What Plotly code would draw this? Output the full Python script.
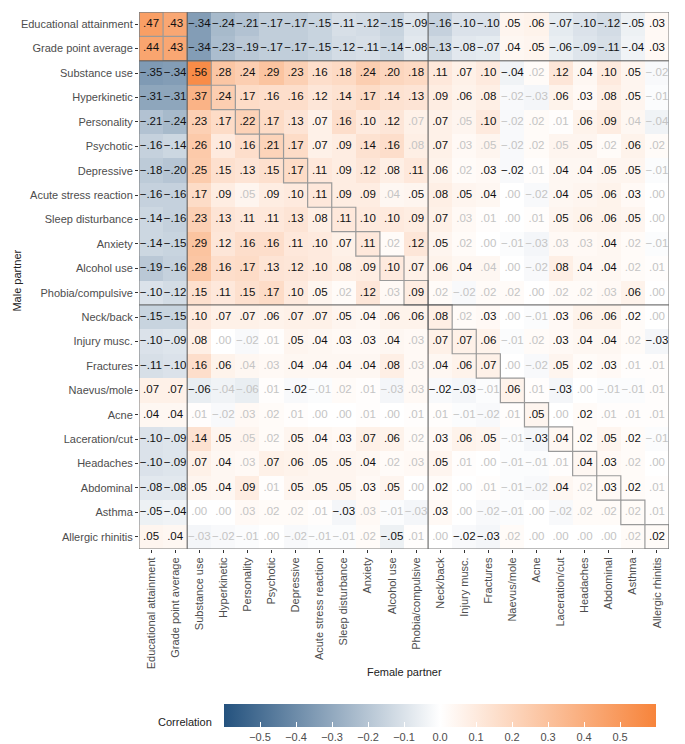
import plotly.graph_objects as go

categories = ["Educational attainment", "Grade point average", "Substance use", "Hyperkinetic",
              "Personality", "Psychotic", "Depressive", "Acute stress reaction", "Sleep disturbance",
              "Anxiety", "Alcohol use", "Phobia/compulsive", "Neck/back", "Injury musc.", "Fractures",
              "Naevus/mole", "Acne", "Laceration/cut", "Headaches", "Abdominal", "Asthma",
              "Allergic rhinitis"]

# rows = male partner, columns = female partner
educational_attainment = [.47, .43, -.34, -.24, -.21, -.17, -.17, -.15, -.11, -.12, -.15, -.09, -.16, -.10, -.10, .05, .06, -.07, -.10, -.12, -.05, .03]
grade_point_average = [.44, .43, -.34, -.23, -.19, -.17, -.17, -.15, -.12, -.11, -.14, -.08, -.13, -.08, -.07, .04, .05, -.06, -.09, -.11, -.04, .03]
substance_use = [-.35, -.34, .56, .28, .24, .29, .23, .16, .18, .24, .20, .18, .11, .07, .10, -.04, .02, .12, .04, .10, .05, -.02]
hyperkinetic = [-.31, -.31, .37, .24, .17, .16, .16, .12, .14, .17, .14, .13, .09, .06, .08, -.02, -.03, .06, .03, .08, .05, -.01]
personality = [-.21, -.24, .23, .17, .22, .17, .13, .07, .16, .10, .12, .07, .07, .05, .10, -.02, .02, .01, .06, .09, .04, -.04]
psychotic = [-.16, -.14, .26, .10, .16, .21, .17, .07, .09, .14, .16, .08, .07, .03, .05, -.02, .02, .05, .05, .02, .06, .02]
depressive = [-.18, -.20, .25, .15, .13, .15, .17, .11, .09, .12, .08, .11, .06, .02, .03, -.02, .01, .04, .04, .05, .05, -.01]
acute_stress = [-.16, -.16, .17, .09, .05, .09, .10, .11, .09, .09, .04, .05, .08, .05, .04, .00, -.02, .04, .05, .06, .03, .00]
sleep_disturbance = [-.14, -.16, .23, .13, .11, .11, .13, .08, .11, .10, .10, .09, .07, .03, .01, .00, .01, .05, .06, .06, .05, .00]
anxiety = [-.14, -.15, .29, .12, .16, .16, .11, .10, .07, .11, .02, .12, .05, .02, .00, -.01, -.03, .03, .03, .04, .02, -.01]
alcohol_use = [-.19, -.16, .28, .16, .17, .13, .12, .10, .08, .09, .10, .07, .06, .04, .04, .00, -.02, .08, .04, .04, .02, .01]
phobia_compulsive = [-.10, -.12, .15, .11, .15, .17, .10, .05, .02, .12, .03, .09, .02, -.02, .02, .02, .00, .02, .02, .03, .06, .00]
neck_back = [-.15, -.15, .10, .07, .07, .06, .07, .07, .05, .04, .06, .06, .08, .02, .03, .00, -.01, .03, .06, .06, .02, .00]
injury_musc = [-.10, -.09, .08, .00, -.02, .01, .05, .04, .03, .03, .04, .03, .07, .07, .06, -.01, .02, .03, .04, .04, .02, -.03]
fractures = [-.11, -.10, .16, .06, .04, .03, .04, .04, .04, .04, .08, .03, .04, .06, .07, .00, -.02, .05, .02, .03, .01, .01]
naevus_mole = [.07, .07, -.06, -.04, -.06, .01, -.02, -.01, .02, .01, -.03, .03, -.02, -.03, -.01, .06, .01, -.03, .00, -.01, -.01, .01]
acne = [.04, .04, .01, -.02, .03, .02, .01, .00, .00, .01, .00, .01, .01, -.01, -.02, .01, .05, .00, .02, .01, .01, .01]
laceration_cut = [-.10, -.09, .14, .05, .05, .02, .05, .04, .03, .07, .06, .02, .03, .06, .05, -.01, -.03, .04, .02, .05, .02, -.01]
headaches = [-.10, -.09, .07, .04, .03, .07, .06, .05, .05, .04, .02, .03, .05, .01, .00, -.01, -.01, .01, .04, .03, .02, .00]
abdominal = [-.08, -.08, .05, .04, .09, .01, .05, .05, .05, .03, .05, .00, .02, .00, .01, -.01, -.02, .04, .02, .03, .02, .01]
asthma = [-.05, -.04, .00, .00, .03, .02, .02, .01, -.03, .03, -.01, -.03, .03, .00, -.02, -.01, .00, -.02, .02, .02, .02, .01]
allergic_rhinitis = [.05, .04, -.03, -.02, -.01, .00, -.02, -.01, -.01, .02, -.05, .01, .00, -.02, -.03, .02, .00, .00, .00, .00, .02, .02]

corr_rows = [educational_attainment, grade_point_average, substance_use, hyperkinetic, personality,
             psychotic, depressive, acute_stress, sleep_disturbance, anxiety, alcohol_use,
             phobia_compulsive, neck_back, injury_musc, fractures, naevus_mole, acne, laceration_cut,
             headaches, abdominal, asthma, allergic_rhinitis]

# 1 = significant (dark label), 0 = not significant (faint label)
significance = [
    "1111111111111111111111",
    "1111111111111111111111",
    "1111111111111111011110",
    "1111111111111110011110",
    "1111111111101010001100",
    "1111111111101000001010",
    "1111111111111011011110",
    "1111011111011110011110",
    "1111111111111000011110",
    "1111111111011000000100",
    "1111111111111100011100",
    "1111111101010000000010",
    "1111111111111010011110",
    "1110001111101110011101",
    "1111001111101110011100",
    "1110001000001101010000",
    "1100000000000000101000",
    "1111001111101110111110",
    "1111011111001000001100",
    "1111101111101000010110",
    "1100000010001000000000",
    "1100000000100110000001",
]


def fmt(v):
    s = f"{abs(v):.2f}"[1:]
    return ("\u2212" if v < 0 else "") + s


n = len(categories)
idx = list(range(n))

fig = go.Figure()
fig.add_trace(go.Heatmap(
    z=corr_rows, x=idx, y=idx, zmin=-0.6, zmax=0.6,
    colorscale=[[0, "#24527e"], [0.5, "#ffffff"], [1, "#f7843b"]],
    hoverinfo="skip",
    colorbar=dict(
        orientation="h", lenmode="pixels", len=432, thickness=23,
        x=0.5680, xanchor="center", y=-0.288, yanchor="top", xpad=0, ypad=0,
        outlinewidth=0, ticks="inside", ticklen=5, tickcolor="white", tickwidth=1,
        tickvals=[-0.5, -0.4, -0.3, -0.2, -0.1, 0.0, 0.1, 0.2, 0.3, 0.4, 0.5],
        ticktext=["\u22120.5", "\u22120.4", "\u22120.3", "\u22120.2", "\u22120.1", "0.0",
                  "0.1", "0.2", "0.3", "0.4", "0.5"],
        tickfont=dict(family="Liberation Sans", size=11, color="#4d4d4d"),
    ),
))

for flag, color in (("1", "#111111"), ("0", "#c4c4c4")):
    xs, ys, ts = [], [], []
    for i, row in enumerate(corr_rows):
        for j, v in enumerate(row):
            if significance[i][j] == flag:
                xs.append(j)
                ys.append(i)
                ts.append(fmt(v))
    fig.add_trace(go.Scatter(x=xs, y=ys, text=ts, mode="text", hoverinfo="skip",
                             showlegend=False,
                             textfont=dict(family="Liberation Sans", size=11.5, color=color)))

shapes = []
for i in idx:
    shapes.append(dict(type="rect", xref="x", yref="y", x0=i - 0.5, x1=i + 0.5,
                       y0=i - 0.5, y1=i + 0.5, line=dict(color="#9a9a9a", width=1.2)))
for b in (1.5, 11.5):
    shapes.append(dict(type="line", xref="x", yref="y", x0=b, x1=b, y0=-0.5, y1=n - 0.5,
                       line=dict(color="#555555", width=1)))
    shapes.append(dict(type="line", xref="x", yref="y", y0=b, y1=b, x0=-0.5, x1=n - 0.5,
                       line=dict(color="#555555", width=1)))
shapes.append(dict(type="rect", xref="x", yref="y", x0=-0.5, x1=n - 0.5, y0=-0.5, y1=n - 0.5,
                   line=dict(color="#777777", width=1)))

axis_font = dict(family="Liberation Sans", size=11, color="#4d4d4d")
fig.update_layout(
    width=685, height=744,
    margin=dict(l=131, r=24, t=4, b=190),
    paper_bgcolor="white", plot_bgcolor="white",
    showlegend=False,
    shapes=shapes,
    xaxis=dict(tickmode="array", tickvals=idx, ticktext=categories, tickangle=-90,
               range=[-0.5, n - 0.5], showgrid=False, zeroline=False, ticks="outside",
               ticklen=3, tickcolor="#333333", tickfont=axis_font, fixedrange=True),
    yaxis=dict(tickmode="array", tickvals=idx, ticktext=categories,
               range=[n - 0.5, -0.5], showgrid=False, zeroline=False, ticks="outside",
               ticklen=3, tickcolor="#333333", tickfont=axis_font, fixedrange=True),
    annotations=[
        dict(text="Female partner", xref="paper", yref="paper", x=0.5, y=-0.229,
             showarrow=False, xanchor="center", yanchor="middle",
             font=dict(family="Liberation Sans", size=11, color="#222222")),
        dict(text="Male partner", xref="paper", yref="paper", x=-0.232, y=0.5,
             showarrow=False, textangle=-90, xanchor="center", yanchor="middle",
             font=dict(family="Liberation Sans", size=11, color="#222222")),
        dict(text="Correlation", xref="paper", yref="paper", x=0.1415, y=-0.3215,
             showarrow=False, xanchor="right", yanchor="middle",
             font=dict(family="Liberation Sans", size=11, color="#222222")),
    ],
)

fig.write_html("out.html")
